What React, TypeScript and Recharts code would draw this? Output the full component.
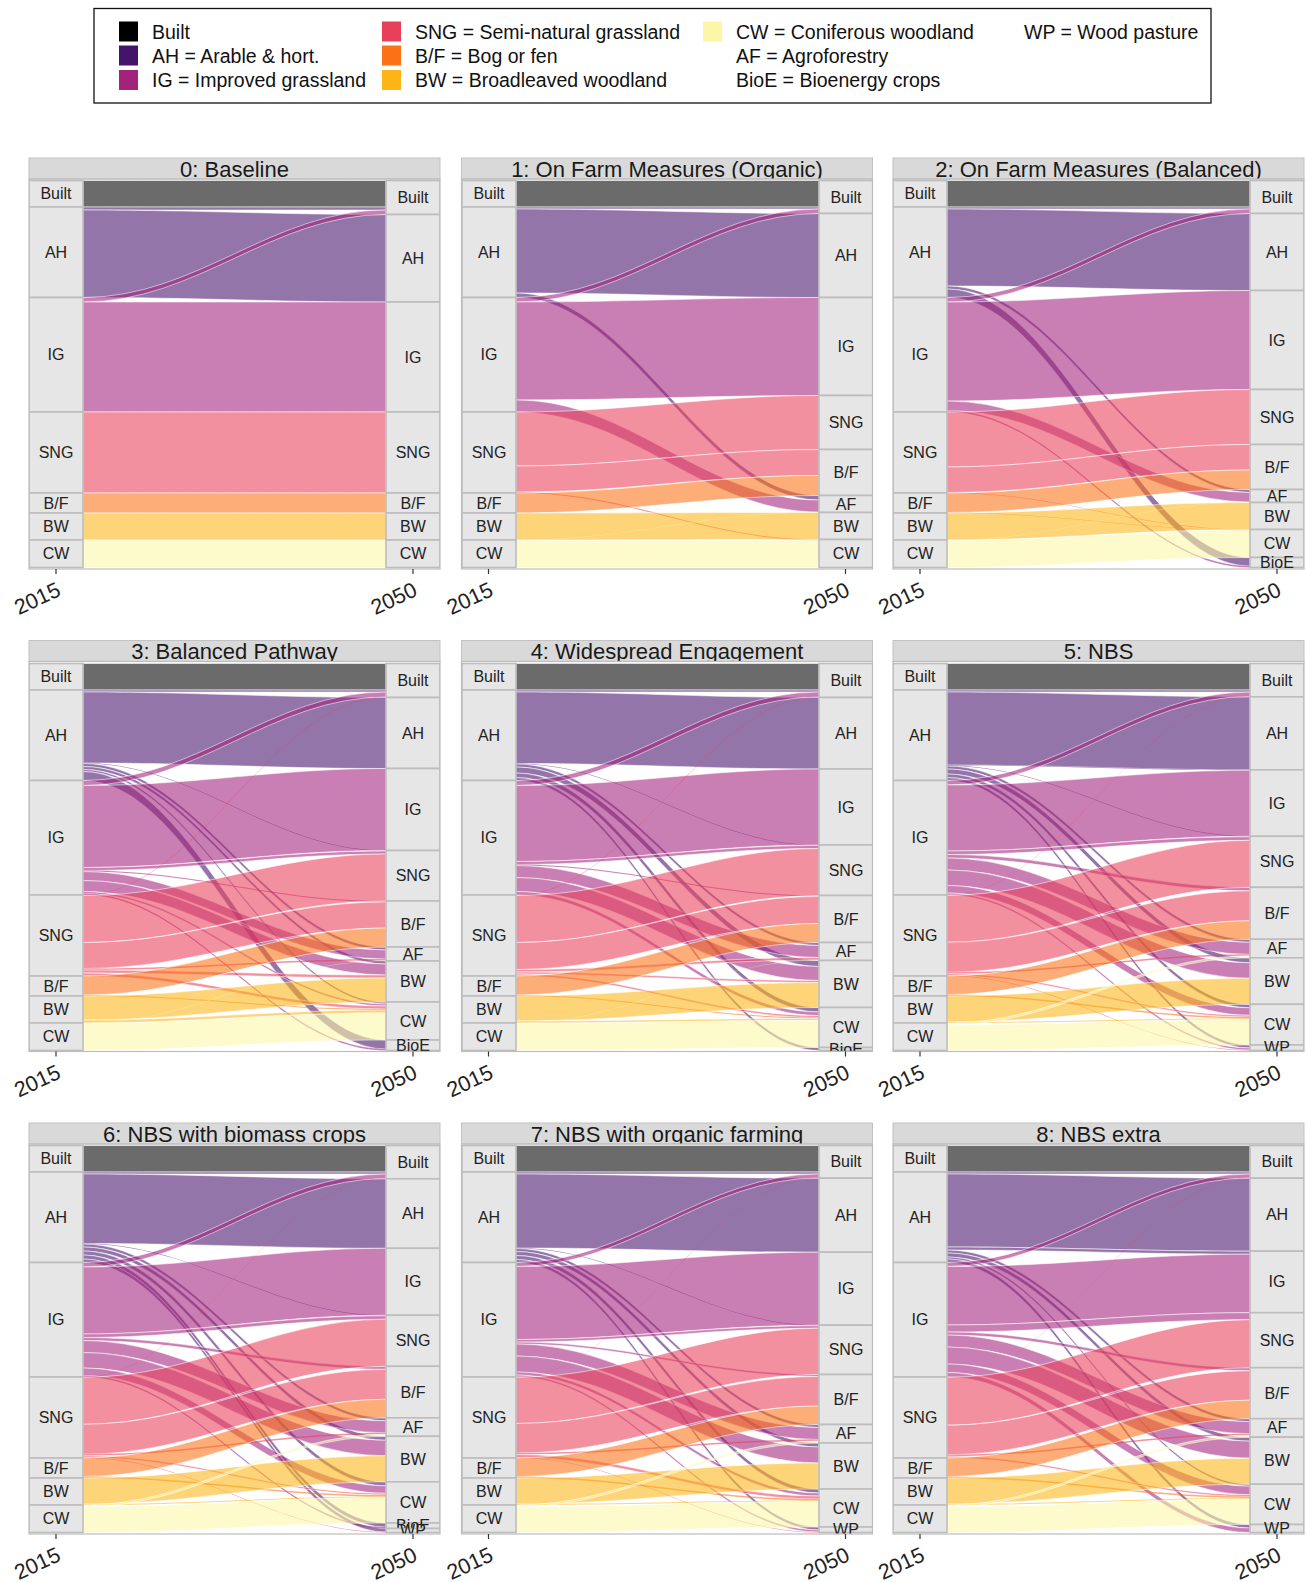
import React, { useMemo } from 'react';
import { Sankey } from 'recharts';

type Flow = [string, string, number];

const FONT = '"Liberation Sans", Arial, Helvetica, sans-serif';

const YEAR_FROM = '2015';
const YEAR_TO = '2050';

// stratum order, top to bottom
const CLASSES_2015 = ['Built', 'AH', 'IG', 'SNG', 'B/F', 'BW', 'CW'];
const CLASSES_2050 = ['Built', 'AH', 'IG', 'SNG', 'B/F', 'AF', 'BW', 'CW', 'BioE', 'WP'];

const CLASS_COLORS: Record<string, string> = {
  Built: '#000000',
  AH: '#45126c',
  IG: '#a2237c',
  SNG: '#e8405b',
  'B/F': '#fa7116',
  BW: '#fdb516',
  CW: '#fcf7a6',
};

// legend columns: [label, swatch colour or null]
const LEGEND_COLUMNS: [string, string | null][][] = [
  [['Built', '#000000'], ['AH = Arable & hort.', '#45126c'], ['IG = Improved grassland', '#a2237c']],
  [['SNG = Semi-natural grassland', '#e8405b'], ['B/F = Bog or fen', '#fa7116'], ['BW = Broadleaved woodland', '#fdb516']],
  [['CW = Coniferous woodland', '#fcf7a6'], ['AF = Agroforestry', null], ['BioE = Bioenergy crops', null]],
  [['WP = Wood pasture', null]],
];

const SCENARIO_TITLES = [
  '0: Baseline',
  '1: On Farm Measures (Organic)',
  '2: On Farm Measures (Balanced)',
  '3: Balanced Pathway',
  '4: Widespread Engagement',
  '5: NBS',
  '6: NBS with biomass crops',
  '7: NBS with organic farming',
  '8: NBS extra',
];

// land area moved from 2015 class to 2050 class
const FLOWS_BASELINE: Flow[] = [
  ['Built', 'Built', 26.5],
  ['AH', 'Built', 3], ['AH', 'AH', 87.5],
  ['IG', 'Built', 4.5], ['IG', 'IG', 110],
  ['SNG', 'SNG', 81],
  ['B/F', 'B/F', 20],
  ['BW', 'BW', 27],
  ['CW', 'CW', 27.5],
];

const FLOWS_FARM_ORGANIC: Flow[] = [
  ['Built', 'Built', 26.5],
  ['AH', 'Built', 2], ['AH', 'AH', 84], ['AH', 'AF', 4.5],
  ['IG', 'Built', 4.5], ['IG', 'IG', 98], ['IG', 'AF', 12],
  ['SNG', 'SNG', 54], ['SNG', 'B/F', 26], ['SNG', 'CW', 1],
  ['B/F', 'B/F', 20],
  ['BW', 'BW', 27],
  ['CW', 'AF', 0.5], ['CW', 'CW', 27],
];

const FLOWS_FARM_BALANCED: Flow[] = [
  ['Built', 'Built', 26.5],
  ['AH', 'Built', 2], ['AH', 'AH', 77], ['AH', 'AF', 3], ['AH', 'BioE', 8.5],
  ['IG', 'Built', 4.5], ['IG', 'IG', 99], ['IG', 'AF', 9.5], ['IG', 'BioE', 1.5],
  ['SNG', 'SNG', 55], ['SNG', 'B/F', 25.5], ['SNG', 'CW', 0.5],
  ['B/F', 'B/F', 19.5], ['B/F', 'CW', 0.5],
  ['BW', 'BW', 27],
  ['CW', 'AF', 0.5], ['CW', 'CW', 27],
];

const FLOWS_BALANCED_PATHWAY: Flow[] = [
  ['Built', 'Built', 26.5],
  ['AH', 'Built', 2], ['AH', 'AH', 71], ['AH', 'SNG', 0.5], ['AH', 'AF', 3], ['AH', 'BW', 3], ['AH', 'CW', 2], ['AH', 'BioE', 9],
  ['IG', 'Built', 5], ['IG', 'IG', 82], ['IG', 'SNG', 3], ['IG', 'B/F', 1], ['IG', 'AF', 9], ['IG', 'BW', 11], ['IG', 'CW', 2], ['IG', 'BioE', 1.5],
  ['SNG', 'Built', 0.5], ['SNG', 'SNG', 47], ['SNG', 'B/F', 26], ['SNG', 'AF', 1.5], ['SNG', 'BW', 3], ['SNG', 'CW', 3],
  ['B/F', 'B/F', 19], ['B/F', 'CW', 1],
  ['BW', 'BW', 24], ['BW', 'CW', 3],
  ['CW', 'AF', 0.5], ['CW', 'CW', 27],
];

const FLOWS_WIDESPREAD: Flow[] = [
  ['Built', 'Built', 26.5],
  ['AH', 'Built', 2], ['AH', 'AH', 71.5], ['AH', 'SNG', 0.5], ['AH', 'AF', 3], ['AH', 'BW', 6], ['AH', 'CW', 4.5], ['AH', 'BioE', 3],
  ['IG', 'Built', 5], ['IG', 'IG', 76], ['IG', 'SNG', 3], ['IG', 'B/F', 1], ['IG', 'AF', 12], ['IG', 'BW', 14], ['IG', 'CW', 3.5],
  ['SNG', 'Built', 0.5], ['SNG', 'SNG', 47], ['SNG', 'B/F', 27], ['SNG', 'AF', 2.5], ['SNG', 'BW', 2], ['SNG', 'CW', 2],
  ['B/F', 'B/F', 19], ['B/F', 'CW', 1],
  ['BW', 'BW', 25], ['BW', 'CW', 2],
  ['CW', 'AF', 0.5], ['CW', 'CW', 27],
];

const FLOWS_NBS: Flow[] = [
  ['Built', 'Built', 26.5],
  ['AH', 'Built', 2], ['AH', 'AH', 73], ['AH', 'IG', 0.5], ['AH', 'SNG', 0.5], ['AH', 'AF', 3], ['AH', 'BW', 5], ['AH', 'CW', 3.5], ['AH', 'WP', 3],
  ['IG', 'Built', 4.5], ['IG', 'IG', 66], ['IG', 'SNG', 3.5], ['IG', 'B/F', 3.5], ['IG', 'AF', 12], ['IG', 'BW', 15.5], ['IG', 'CW', 7.5], ['IG', 'WP', 2],
  ['SNG', 'Built', 0.3], ['SNG', 'SNG', 47], ['SNG', 'B/F', 30], ['SNG', 'AF', 1.5], ['SNG', 'CW', 1.7], ['SNG', 'WP', 0.5],
  ['B/F', 'B/F', 18.5], ['B/F', 'CW', 1.5],
  ['BW', 'BW', 26], ['BW', 'CW', 1],
  ['CW', 'AF', 2], ['CW', 'CW', 25.5],
];

const FLOWS_NBS_BIOMASS: Flow[] = [
  ['Built', 'Built', 26.5],
  ['AH', 'Built', 2], ['AH', 'AH', 69.5], ['AH', 'SNG', 0.5], ['AH', 'AF', 3], ['AH', 'BW', 4], ['AH', 'CW', 4], ['AH', 'BioE', 4], ['AH', 'WP', 3.5],
  ['IG', 'Built', 4.5], ['IG', 'IG', 67], ['IG', 'SNG', 3.5], ['IG', 'B/F', 3], ['IG', 'AF', 12], ['IG', 'BW', 15.5], ['IG', 'CW', 7.5], ['IG', 'BioE', 1.5],
  ['SNG', 'Built', 0.3], ['SNG', 'SNG', 47], ['SNG', 'B/F', 30], ['SNG', 'AF', 1.5], ['SNG', 'CW', 1.7], ['SNG', 'WP', 0.5],
  ['B/F', 'B/F', 18.5], ['B/F', 'CW', 1.5],
  ['BW', 'BW', 26], ['BW', 'CW', 1],
  ['CW', 'AF', 2], ['CW', 'CW', 25.5],
];

const FLOWS_NBS_ORGANIC: Flow[] = [
  ['Built', 'Built', 26.5],
  ['AH', 'Built', 2], ['AH', 'AH', 74], ['AH', 'SNG', 0.5], ['AH', 'AF', 3], ['AH', 'BW', 4], ['AH', 'CW', 4], ['AH', 'WP', 3],
  ['IG', 'Built', 4], ['IG', 'IG', 73], ['IG', 'SNG', 2.5], ['IG', 'B/F', 2], ['IG', 'AF', 12], ['IG', 'BW', 16], ['IG', 'CW', 3], ['IG', 'WP', 2],
  ['SNG', 'Built', 0.2], ['SNG', 'SNG', 46.3], ['SNG', 'B/F', 29.5], ['SNG', 'AF', 1.5], ['SNG', 'CW', 3], ['SNG', 'WP', 0.5],
  ['B/F', 'B/F', 18.5], ['B/F', 'CW', 1.5],
  ['BW', 'BW', 26], ['BW', 'CW', 1],
  ['CW', 'AF', 2], ['CW', 'CW', 25.5],
];

const FLOWS_NBS_EXTRA: Flow[] = [
  ['Built', 'Built', 26.5],
  ['AH', 'Built', 2], ['AH', 'AH', 73], ['AH', 'IG', 3], ['AH', 'AF', 3], ['AH', 'BW', 4], ['AH', 'CW', 2], ['AH', 'WP', 3.5],
  ['IG', 'Built', 4], ['IG', 'IG', 58.5], ['IG', 'SNG', 7], ['IG', 'B/F', 3], ['IG', 'AF', 12], ['IG', 'BW', 17], ['IG', 'CW', 8.5], ['IG', 'WP', 4.5],
  ['SNG', 'Built', 0.2], ['SNG', 'SNG', 48], ['SNG', 'B/F', 29.5], ['SNG', 'AF', 1.5], ['SNG', 'CW', 1.8],
  ['B/F', 'B/F', 18.5], ['B/F', 'CW', 1.5],
  ['BW', 'BW', 26], ['BW', 'CW', 1],
  ['CW', 'AF', 2], ['CW', 'CW', 25.5],
];

const SCENARIO_FLOWS = [
  FLOWS_BASELINE, FLOWS_FARM_ORGANIC, FLOWS_FARM_BALANCED,
  FLOWS_BALANCED_PATHWAY, FLOWS_WIDESPREAD, FLOWS_NBS,
  FLOWS_NBS_BIOMASS, FLOWS_NBS_ORGANIC, FLOWS_NBS_EXTRA,
];

// facet grid geometry
const PANEL_W = 411;
const STRIP_H = 21;
const PLOT_H = 390;
const NODE_W = 54;
const COL_X = [29, 461.5, 893];
const ROW_Y = [158, 640.5, 1123];

function buildSankeyData(flows: Flow[]) {
  const used = new Set(flows.map((f) => f[1]));
  const right = CLASSES_2050.filter((c) => used.has(c));
  const nodes = [
    ...CLASSES_2015.map((name) => ({ name })),
    ...right.map((name) => ({ name })),
  ];
  const links = flows.map(([from, to, value]) => ({
    source: CLASSES_2015.indexOf(from),
    target: CLASSES_2015.length + right.indexOf(to),
    value,
  }));
  return { nodes, links };
}

function FlowBand(props: any) {
  const { sourceX, targetX, sourceY, targetY, sourceControlX, targetControlX, linkWidth, payload } = props;
  const h = linkWidth / 2;
  const d =
    `M${sourceX},${sourceY - h} C${sourceControlX},${sourceY - h} ${targetControlX},${targetY - h} ${targetX},${targetY - h}` +
    ` L${targetX},${targetY + h} C${targetControlX},${targetY + h} ${sourceControlX},${sourceY + h} ${sourceX},${sourceY + h} Z`;
  const color = CLASS_COLORS[payload.source.name] ?? '#999';
  return (
    <path
      d={d}
      fill={color}
      fillOpacity={0.58}
      stroke="#ffffff"
      strokeWidth={linkWidth > 1.5 ? 0.6 : 0}
      strokeOpacity={0.9}
    />
  );
}

function StratumBox(props: any) {
  const { x, y, width, height, payload } = props;
  return (
    <g>
      <rect x={x} y={y} width={width} height={height} fill="#e6e6e6" stroke="#bdbdbd" strokeWidth={1.6} />
      <text
        x={x + width / 2}
        y={y + height / 2}
        textAnchor="middle"
        dominantBaseline="central"
        fontSize={16}
        fontFamily={FONT}
        fill="#222"
      >
        {payload.name}
      </text>
    </g>
  );
}

function FlowPanel({ flows, left, top }: { flows: Flow[]; left: number; top: number }) {
  const data = useMemo(() => buildSankeyData(flows), [flows]);
  return (
    <div style={{ position: 'absolute', left, top, width: PANEL_W, height: PLOT_H }}>
      <Sankey
        width={PANEL_W}
        height={PLOT_H}
        data={data}
        nodeWidth={NODE_W}
        nodePadding={0}
        iterations={0}
        linkCurvature={0.38}
        sort={false}
        margin={{ top: 1.5, right: 0, bottom: 1.5, left: 0 }}
        node={<StratumBox />}
        link={<FlowBand />}
      />
    </div>
  );
}

function Legend() {
  const colX = [119, 382, 703, 991];
  const rowY = [31.5, 55.5, 80];
  return (
    <g fontFamily={FONT}>
      <rect x={94} y={8.5} width={1117} height={94.5} fill="#fff" stroke="#111" strokeWidth={1.3} />
      {LEGEND_COLUMNS.map((col, ci) =>
        col.map(([label, color], ri) => (
          <g key={`${ci}-${ri}`}>
            {color && <rect x={colX[ci]} y={rowY[ri] - 10} width={19} height={20} fill={color} />}
            <text x={colX[ci] + 33} y={rowY[ri]} dominantBaseline="central" fontSize={19.5} fill="#111">
              {label}
            </text>
          </g>
        )),
      )}
    </g>
  );
}

function YearLabel({ x, y, label }: { x: number; y: number; label: string }) {
  return (
    <text x={x} y={y} textAnchor="end" fontSize={21.5} fill="#222" transform={`rotate(-25 ${x} ${y})`}>
      {label}
    </text>
  );
}

export default function App() {
  const panels = SCENARIO_TITLES.map((title, i) => ({
    title,
    flows: SCENARIO_FLOWS[i],
    x: COL_X[i % 3],
    stripY: ROW_Y[Math.floor(i / 3)],
  }));

  return (
    <div style={{ position: 'relative', width: 1307, height: 1582, background: '#fff', overflow: 'hidden' }}>
      <style>{'body { margin: 0; }'}</style>

      {panels.map((p) => (
        <FlowPanel key={p.title} flows={p.flows} left={p.x} top={p.stripY + STRIP_H} />
      ))}

      <svg
        width={1307}
        height={1582}
        style={{ position: 'absolute', left: 0, top: 0, pointerEvents: 'none' }}
      >
        <Legend />
        {panels.map((p, i) => {
          const plotTop = p.stripY + STRIP_H;
          const plotBottom = plotTop + PLOT_H;
          const tickL = p.x + NODE_W / 2;
          const tickR = p.x + PANEL_W - NODE_W / 2;
          return (
            <g key={p.title} fontFamily={FONT}>
              <defs>
                <clipPath id={`strip-clip-${i}`}>
                  <rect x={p.x} y={p.stripY} width={PANEL_W} height={STRIP_H} />
                </clipPath>
              </defs>
              <rect x={p.x} y={p.stripY} width={PANEL_W} height={STRIP_H} fill="#d9d9d9" stroke="#c2c2c2" strokeWidth={1} />
              <text
                x={p.x + PANEL_W / 2}
                y={p.stripY + 18.5}
                textAnchor="middle"
                fontSize={22}
                fill="#1a1a1a"
                clipPath={`url(#strip-clip-${i})`}
              >
                {p.title}
              </text>
              <rect x={p.x} y={plotTop} width={PANEL_W} height={PLOT_H} fill="none" stroke="#bdbdbd" strokeWidth={1.2} />
              <line x1={tickL} x2={tickL} y1={plotBottom} y2={plotBottom + 5} stroke="#333" strokeWidth={1.2} />
              <line x1={tickR} x2={tickR} y1={plotBottom} y2={plotBottom + 5} stroke="#333" strokeWidth={1.2} />
              <YearLabel x={tickL + 6} y={plotBottom + 26} label={YEAR_FROM} />
              <YearLabel x={tickR + 5.5} y={plotBottom + 26} label={YEAR_TO} />
            </g>
          );
        })}
      </svg>
    </div>
  );
}
